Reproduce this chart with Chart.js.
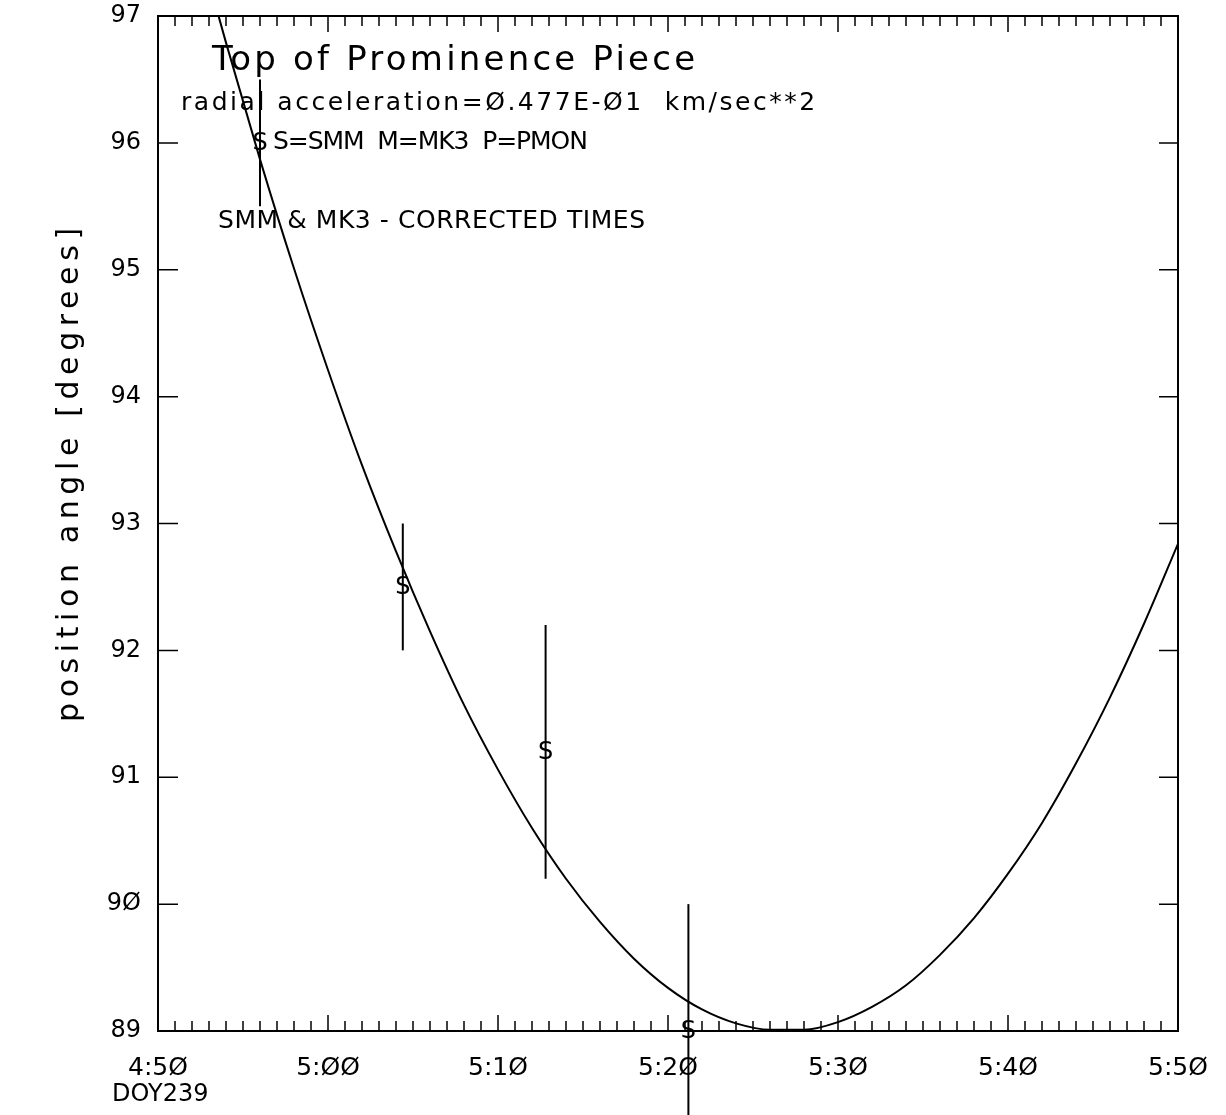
<!DOCTYPE html>
<html><head><meta charset="utf-8">
<script src="https://cdn.jsdelivr.net/npm/chart.js@4"></script>
<style>html,body{margin:0;padding:0;background:#fff}#wrap{width:1226px;height:1115px}</style>
</head><body><div id="wrap"><canvas id="c" width="1226" height="1115"></canvas></div>
<script>
// ---- data (time in minutes after 0:00 of DOY239) ----
const fitTimes  = [293.5, 294, 296, 298, 300, 302, 304, 306, 308, 310, 312, 314, 316, 318, 320, 322, 324, 326, 328, 330, 332, 334, 336, 338, 340, 342, 344, 346, 348, 350];
const fitAngles = [97.03, 96.79, 95.87, 95.01, 94.21, 93.46, 92.78, 92.15, 91.57, 91.06, 90.60, 90.20, 89.86, 89.57, 89.34, 89.17, 89.06, 89.01, 89.01, 89.07, 89.19, 89.36, 89.60, 89.89, 90.24, 90.64, 91.11, 91.63, 92.21, 92.84];
const obsTimes  = [296.0, 304.4, 312.8, 321.2];
const obsAngles = [96.0, 92.5, 91.2, 89.0];
const obsErrors = [0.5, 0.5, 1.0, 1.0];
const obsSymbols = ['S', 'S', 'S', 'S'];
const xMin = 290, xMax = 350, xStep = 10;
const yMin = 89, yMax = 97, yStep = 1;
const yAxisTitle = 'position angle [degrees]';
const dayLabel = 'DOY239';
const noteLines = [
  'Top of Prominence Piece',
  'radial acceleration=Ø.477E-Ø1  km/sec**2',
  'S=SMM  M=MK3  P=PMON',
  'SMM & MK3 - CORRECTED TIMES'
];

const FONT = 'DejaVu Sans';
function slashZero(s){ return String(s).replace(/0/g, 'Ø'); }
function fmtTime(v){ const h = Math.floor(v/60), m = Math.round(v - h*60); return slashZero(h + ':' + String(m).padStart(2,'0')); }

function fitText(ctx, text, x, y, w, size){
  ctx.font = size + 'px "' + FONT + '"';
  ctx.letterSpacing = '0px';
  const w0 = ctx.measureText(text).width;
  const ls = (w - w0) / Math.max(1, text.length - 1);
  ctx.letterSpacing = ls.toFixed(2) + 'px';
  ctx.fillText(text, x, y);
  ctx.letterSpacing = '0px';
}

const decor = {
  id: 'decor',
  afterDraw(chart){
    const ctx = chart.ctx, a = chart.chartArea;
    const xs = chart.scales.x, ys = chart.scales.y;
    ctx.save();
    ctx.strokeStyle = '#000'; ctx.fillStyle = '#000';
    // frame
    ctx.lineWidth = 2;
    ctx.strokeRect(a.left, a.top, a.right - a.left, a.bottom - a.top);
    // x ticks (every minute, longer each 10 min), top and bottom, inward
    ctx.lineWidth = 1.5;
    for (let m = xMin + 1; m < xMax; m++){
      const px = xs.getPixelForValue(m);
      const len = (m % 10 === 0) ? 16 : 10;
      ctx.beginPath();
      ctx.moveTo(px, a.bottom); ctx.lineTo(px, a.bottom - len);
      ctx.moveTo(px, a.top); ctx.lineTo(px, a.top + len);
      ctx.stroke();
    }
    // y ticks left and right, inward
    for (let v = yMin + 1; v < yMax; v++){
      const py = ys.getPixelForValue(v);
      ctx.beginPath();
      ctx.moveTo(a.left, py); ctx.lineTo(a.left + 20, py);
      ctx.moveTo(a.right, py); ctx.lineTo(a.right - 19, py);
      ctx.stroke();
    }
    // error bars and symbols
    ctx.lineWidth = 2;
    for (let i = 0; i < obsTimes.length; i++){
      const px = xs.getPixelForValue(obsTimes[i]);
      ctx.beginPath();
      ctx.moveTo(px, ys.getPixelForValue(obsAngles[i] + obsErrors[i]));
      ctx.lineTo(px, ys.getPixelForValue(obsAngles[i] - obsErrors[i]));
      ctx.stroke();
    }
    const meta = chart.getDatasetMeta(1);
    ctx.font = '24px "' + FONT + '"';
    ctx.textAlign = 'center'; ctx.textBaseline = 'middle';
    meta.data.forEach((pt, i) => { ctx.fillText(obsSymbols[i], pt.x, pt.y + 1); });
    // notes
    ctx.textAlign = 'left'; ctx.textBaseline = 'alphabetic';
    fitText(ctx, noteLines[0], 212, 70, 483, 34);
    fitText(ctx, noteLines[1], 181, 110, 634, 25);
    fitText(ctx, noteLines[2], 273, 149, 315, 25);
    fitText(ctx, noteLines[3], 218, 228, 427, 25);
    // DOY label
    ctx.font = '24px "' + FONT + '"';
    ctx.fillText(dayLabel, 112, 1101);
    // y axis title
    ctx.save();
    ctx.translate(78, 475);
    ctx.rotate(-Math.PI/2);
    ctx.textAlign = 'left';
    ctx.font = '30px "' + FONT + '"';
    ctx.letterSpacing = '0px';
    const tw = 494;
    const w0 = ctx.measureText(yAxisTitle).width;
    ctx.letterSpacing = ((tw - w0) / (yAxisTitle.length - 1)).toFixed(2) + 'px';
    ctx.fillText(yAxisTitle, -tw/2, 0);
    ctx.restore();
    ctx.restore();
  }
};

new Chart(document.getElementById('c'), {
  type: 'scatter',
  data: {
    datasets: [
      { type: 'line', data: fitTimes.map((t, i) => ({x: t, y: fitAngles[i]})), borderColor: '#000', borderWidth: 2, pointRadius: 0, fill: false, cubicInterpolationMode: 'monotone' },
      { type: 'scatter', data: obsTimes.map((t, i) => ({x: t, y: obsAngles[i]})), pointRadius: 0, clip: false }
    ]
  },
  options: {
    responsive: false, animation: false, devicePixelRatio: 1,
    layout: { padding: { left: 0, right: 48, top: 16, bottom: 0 } },
    plugins: { legend: { display: false }, tooltip: { enabled: false }, title: { display: false } },
    scales: {
      x: {
        type: 'linear', min: xMin, max: xMax,
        grid: { display: false, drawTicks: false }, border: { display: false },
        ticks: { stepSize: xStep, color: '#000', padding: 22, maxRotation: 0, autoSkip: false, font: { family: FONT, size: 25 }, callback: v => fmtTime(v) },
        afterFit: s => { s.height = 84; s.paddingLeft = 0; s.paddingRight = 0; }
      },
      y: {
        type: 'linear', min: yMin, max: yMax,
        grid: { display: false, drawTicks: false }, border: { display: false },
        ticks: { stepSize: yStep, color: '#000', padding: 17, font: { family: FONT, size: 24 }, callback: v => slashZero(v) },
        afterFit: s => { s.width = 158; s.paddingTop = 0; s.paddingBottom = 0; }
      }
    }
  },
  plugins: [decor]
});
</script>
</body></html>
